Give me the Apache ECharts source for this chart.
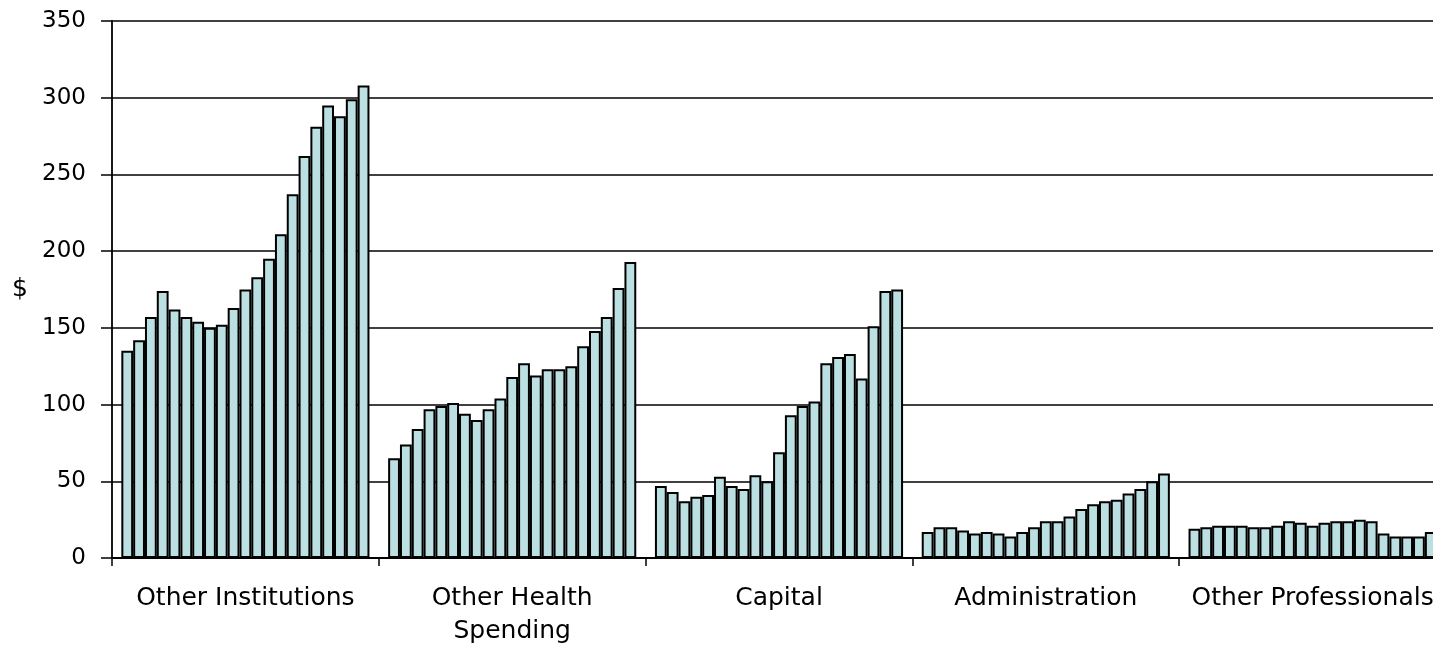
<!DOCTYPE html>
<html>
<head>
<meta charset="utf-8">
<script src="https://cdn.jsdelivr.net/npm/echarts@6/dist/echarts.min.js"></script>
<style>
  html, body { margin: 0; padding: 0; background: #fff; overflow: hidden; }
  #chart { width: 1433px; height: 651px; }
</style>
</head>
<body>
<div id="chart"></div>
<script>
// Spending categories along the x axis
const categories = ['Other Institutions', 'Other Health\nSpending', 'Capital', 'Administration', 'Other Professionals'];

// Yearly values ($) for each category, 21 years each, oldest first
const otherInstitutions = [135, 142, 157, 174, 162, 157, 154, 150, 152, 163, 175, 183, 195, 211, 237, 262, 281, 295, 288, 299, 308];
const otherHealthSpending = [65, 74, 84, 97, 99, 101, 94, 90, 97, 104, 118, 127, 119, 123, 123, 125, 138, 148, 157, 176, 193];
const capital = [47, 43, 37, 40, 41, 53, 47, 45, 54, 50, 69, 93, 99, 102, 127, 131, 133, 117, 151, 174, 175];
const administration = [17, 20, 20, 18, 16, 17, 16, 14, 17, 20, 24, 24, 27, 32, 35, 37, 38, 42, 45, 50, 55];
const otherProfessionals = [19, 20, 21, 21, 21, 20, 20, 21, 24, 23, 21, 23, 24, 24, 25, 24, 16, 14, 14, 14, 17];

// Y axis ticks
const yMin = 0, yMax = 350, yStep = 50;

const groups = [otherInstitutions, otherHealthSpending, capital, administration, otherProfessionals];
const yearCount = otherInstitutions.length;

// One series per year so each category shows a run of adjacent bars
const series = [];
for (let i = 0; i < yearCount; i++) {
  series.push({
    type: 'bar',
    name: 'Year ' + (i + 1),
    data: groups.map(g => g[i]),
    barGap: '0%',
    barCategoryGap: '7%',
    itemStyle: { color: '#BCE0E2', borderColor: '#000', borderWidth: 2 },
    emphasis: { disabled: true },
    animation: false
  });
}

const chart = echarts.init(document.getElementById('chart'), null, { renderer: 'canvas' });
const fontFamily = '"DejaVu Sans", Verdana, sans-serif';

chart.setOption({
  backgroundColor: '#fff',
  animation: false,
  // the plot runs a little past the right edge of the canvas
  grid: { left: 112, top: 21, width: 1334, height: 537, containLabel: false, outerBoundsMode: 'none' },
  xAxis: {
    type: 'category',
    data: categories,
    axisLine: { lineStyle: { color: '#000', width: 1.8 } },
    axisTick: { show: true, length: 8, alignWithLabel: false, lineStyle: { color: '#000', width: 1.5 } },
    axisLabel: {
      interval: 0,
      color: '#000',
      fontFamily: fontFamily,
      fontSize: 25,
      lineHeight: 33,
      margin: 24
    },
    splitLine: { show: false }
  },
  yAxis: {
    type: 'value',
    min: yMin,
    max: yMax,
    interval: yStep,
    name: '$',
    nameLocation: 'middle',
    nameRotate: 0,
    nameGap: 84,
    nameTextStyle: { color: '#000', fontFamily: fontFamily, fontSize: 25 },
    axisLine: { show: true, lineStyle: { color: '#000', width: 1.8 } },
    axisTick: { show: true, length: 11, lineStyle: { color: '#000', width: 1.5 } },
    axisLabel: { color: '#000', fontFamily: fontFamily, fontSize: 23, margin: 26 },
    splitLine: { show: true, lineStyle: { color: '#000', width: 1.6 } }
  },
  series: series
});
</script>
</body>
</html>
